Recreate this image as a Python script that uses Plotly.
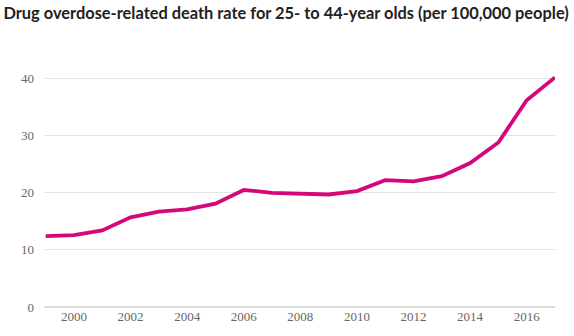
import plotly.graph_objects as go

years = list(range(1999, 2018))
rates = [12.4, 12.6, 13.4, 15.7, 16.7, 17.1, 18.1, 20.5, 20.0, 19.8, 19.7, 20.3, 22.2, 22.0, 22.9, 25.2, 28.8, 36.2, 40.2]
x_ticks = [2000, 2002, 2004, 2006, 2008, 2010, 2012, 2014, 2016]
y_ticks = [0, 10, 20, 30, 40]
title_text = "Drug overdose-related death rate for 25- to 44-year olds (per 100,000 people)"

fig = go.Figure(go.Scatter(
    x=years, y=rates, mode="lines",
    line=dict(color="#d4087b", width=3.8),
    hoverinfo="x+y",
))

fig.update_layout(
    width=574, height=336,
    margin=dict(l=44, r=19, t=50, b=24),
    paper_bgcolor="white", plot_bgcolor="white",
    showlegend=False,
    title=dict(text="<b>" + title_text + "</b>", x=0.006, xanchor="left", y=0.962, yanchor="middle",
               font=dict(family="Lato, Open Sans, sans-serif", size=16.4, color="#222222")),
    xaxis=dict(range=[1998.94, 2017.0], tickvals=x_ticks, showgrid=False, zeroline=False,
               showline=False, ticks="",
               tickfont=dict(family="Liberation Serif, DejaVu Serif, serif", size=13, color="#666666")),
    yaxis=dict(range=[0, 45], tickvals=y_ticks, showgrid=True, gridcolor="#e3e3e3", gridwidth=1,
               zeroline=True, zerolinecolor="#dcdcdc", zerolinewidth=1.5, ticks="", ticklabelstandoff=9,
               tickfont=dict(family="Liberation Serif, DejaVu Serif, serif", size=13, color="#666666")),
)

fig.write_html("out.html")
